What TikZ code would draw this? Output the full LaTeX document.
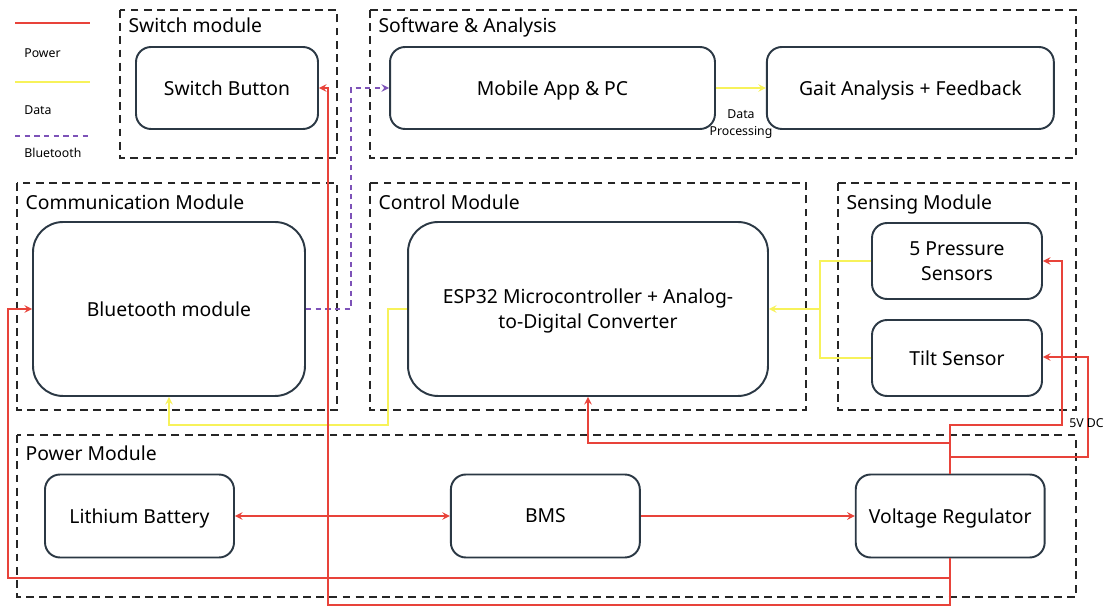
\documentclass[tikz,border=0pt]{standalone}
\usepackage{fontspec}
\setmainfont{Noto Sans}
\usetikzlibrary{positioning, arrows}
\definecolor{pwr}{HTML}{E8433A}
\definecolor{dat}{HTML}{F7F25A}
\definecolor{blu}{HTML}{7D52B8}
\definecolor{edge}{HTML}{2B3844}

\begin{document}
\begin{tikzpicture}[x=0.02cm, y=-0.02cm, >=stealth,
    block/.style={draw=edge, line width=1.1pt, rounded corners=0.3cm, align=center, text depth=0pt, font=\fontsize{11}{14.3}\selectfont},
    bigblock/.style={block, rounded corners=0.6cm},
    modbox/.style={draw=black!85, line width=0.9pt, dash pattern=on 4.5pt off 3pt},
    modtitle/.style={anchor=north west, inner sep=3pt, font=\fontsize{11}{13}\selectfont},
    power/.style={draw=pwr, line width=0.9pt},
    data/.style={draw=dat, line width=0.9pt},
    btlink/.style={draw=blu, line width=0.9pt, dash pattern=on 3pt off 2.5pt},
    legendtext/.style={anchor=west, inner sep=0pt, font=\fontsize{7}{9.8}\selectfont}]

    \useasboundingbox (0,0) rectangle (1110,607);

    % legend
    \coordinate (l1a) at (15,23);  \coordinate (l1b) at (90,23);
    \coordinate (l2a) at (15,82);  \coordinate (l2b) at (90,82);
    \coordinate (l3a) at (15,136); \coordinate (l3b) at (90,136);
    \draw[power] (l1a) -- (l1b);
    \draw[data] (l2a) -- (l2b);
    \draw[btlink] (l3a) -- (l3b);
    \node[legendtext] (lpower) at (24,53) {Power};
    \node[legendtext] (ldata) at (24,110) {Data};
    \node[legendtext] (lbt) at (24,153) {Bluetooth};

    % module frames
    \draw[modbox] (120,10) rectangle (337,158);
    \draw[modbox] (370,10) rectangle (1076,158);
    \draw[modbox] (17,183) rectangle (337,410);
    \draw[modbox] (370,183) rectangle (806,410);
    \draw[modbox] (838,183) rectangle (1076,410);
    \draw[modbox] (17,435) rectangle (1076,597);
    \node[modtitle] (tsw) at (123,12) {Switch module};
    \node[modtitle] (tsoft) at (373,12) {Software \& Analysis};
    \node[modtitle] (tcom) at (20,189) {Communication Module};
    \node[modtitle] (tctl) at (373,189) {Control Module};
    \node[modtitle] (tsen) at (841,189) {Sensing Module};
    \node[modtitle] (tpow) at (20,440) {Power Module};

    % blocks
    \node[block, minimum width=3.64cm, minimum height=1.64cm] (sw) at (227,88) {Switch Button};
    \node[block, minimum width=6.5cm, minimum height=1.64cm] (app) at (552.5,88) {Mobile App \& PC};
    \node[block, minimum width=5.74cm, minimum height=1.64cm] (gait) [right=1.0cm of app] {Gait Analysis + Feedback};
    \node[bigblock, minimum width=5.44cm, minimum height=3.48cm] (bt) at (169,309) {Bluetooth module};
    \node[bigblock, minimum width=7.2cm, minimum height=3.48cm] (esp) at (588,309) {ESP32 Microcontroller + Analog-\\to-Digital Converter};
    \node[block, minimum width=3.4cm, minimum height=1.52cm] (ps) at (957,261) {5 Pressure\\Sensors};
    \node[block, minimum width=3.4cm, minimum height=1.52cm] (ts) at (957,358) {Tilt Sensor};
    \node[block, minimum width=3.78cm, minimum height=1.66cm] (lb) at (139.5,516) {Lithium Battery};
    \node[block, minimum width=3.78cm, minimum height=1.66cm] (bms) [right=4.3cm of lb] {BMS};
    \node[block, minimum width=3.78cm, minimum height=1.66cm] (vr) [right=4.28cm of bms] {Voltage Regulator};

    % junctions
    \coordinate (sj) at (820,309);
    \coordinate (pbus) at (1062,261);
    \coordinate (tbus) at (1088,357);

    % data
    \draw[data, ->] (app) -- (gait);
    \node[legendtext, anchor=north, align=center] (dproc) at (741,109) {Data\\Processing};
    \draw[data] (ps.west) -| (sj);
    \draw[data] (ts.west) -| (sj);
    \draw[data, ->] (sj) -- (esp.east);
    \draw[data, ->] (esp.west) -| (388,425) -| (bt.south);

    % bluetooth
    \draw[btlink, ->] (bt.east) -| (351,88) -- (app.west);

    % power
    \draw[power, <->] (lb) -- (bms);
    \draw[power, ->] (bms) -- (vr);
    \draw[power, ->] (vr.north) |- (1062,425) -- (pbus) -- (ps.east);
    \draw[power, ->] (vr.north) -- (vr.north |- 0,443) -| (esp.south);
    \draw[power, ->] (vr.north) -- (vr.north |- 0,457) -| (tbus) -- (tbus -| ts.east);
    \node[legendtext] (vdc) at (1069,423) {5V DC};
    \draw[power, ->] (vr.south) |- (8,578) |- (bt.west);
    \draw[power, ->] (vr.south) |- (328,605) |- (sw.east);
  \end{tikzpicture}
\end{document}
